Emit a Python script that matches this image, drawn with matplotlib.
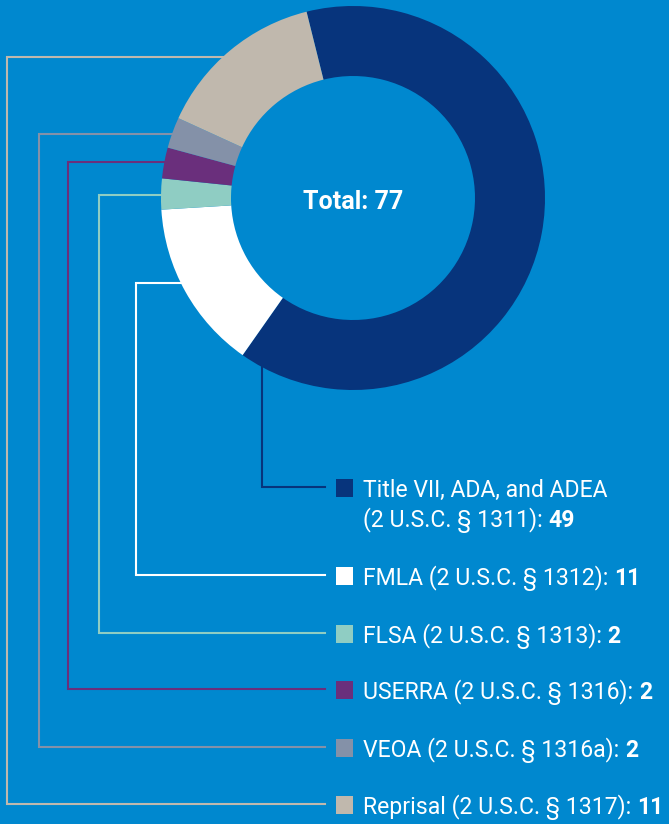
import numpy as np
import matplotlib.pyplot as plt

# data
labels = [['Title VII, ADA, and ADEA', '(2 U.S.C. § 1311): '],
          ['FMLA (2 U.S.C. § 1312): '],
          ['FLSA (2 U.S.C. § 1313): '],
          ['USERRA (2 U.S.C. § 1316): '],
          ['VEOA (2 U.S.C. § 1316a): '],
          ['Reprisal (2 U.S.C. § 1317): ']]
counts = [49, 11, 2, 2, 2, 11]
colors = ['#07347C', '#FFFFFF', '#8FCDC3', '#6A2F7C', '#8491A8', '#C0B8AD']
total = sum(counts)

bg = '#0088CF'
FONT = ['Roboto', 'DejaVu Sans']
FS = 16.6

fig = plt.figure(figsize=(6.69, 8.24), dpi=100, facecolor=bg)
ax = fig.add_axes([0, 0, 1, 1])
ax.set_facecolor(bg)

# donut (y axis is flipped, so counterclock in data = clockwise on screen)
cx, cy, R = 353, 198, 192
wedges, _ = ax.pie(counts, colors=colors, startangle=-104, counterclock=True,
                   center=(cx, cy), radius=R,
                   wedgeprops=dict(width=70, linewidth=0, edgecolor='none'))
for w in wedges:
    w.set_zorder(3)
ax.set_xlim(0, 669)
ax.set_ylim(824, 0)
ax.set_aspect('equal')
ax.axis('off')

ax.text(cx, 209, f'Total: {total}', color='white', fontsize=18, fontweight='bold',
        family=FONT, ha='center', va='baseline', zorder=5)

# leader lines: vertical x, top y, baseline of the legend row
line_x = [262, 136, 99, 68, 39, 7]
line_top = [None, 283, 195, 162, 134, 57]
baselines = [[497, 527], [585], [643], [699], [757], [814]]
x_end = 325
sq = 18

fig.canvas.draw()
renderer = fig.canvas.get_renderer()

for i in range(len(counts)):
    c = colors[i]
    b0 = baselines[i][0]
    y_low = b0 - sq / 2 - 1
    if line_top[i] is None:
        # straight down from the ring
        y_start = cy + np.sqrt(R ** 2 - (line_x[i] - cx) ** 2) - 3
        xs = [line_x[i], line_x[i], x_end]
        ys = [y_start, y_low, y_low]
    else:
        x_start = cx - np.sqrt(R ** 2 - (line_top[i] - cy) ** 2) + 3
        xs = [x_start, line_x[i], line_x[i], x_end]
        ys = [line_top[i], line_top[i], y_low, y_low]
    ax.plot(xs, ys, color=c, lw=1.5, zorder=1, solid_joinstyle='miter')
    ax.add_patch(plt.Rectangle((336, b0 - sq), 17, sq, color=c, lw=0, zorder=2))

    lines = labels[i]
    for j, s in enumerate(lines):
        t = ax.text(363, baselines[i][j], s, color='white', fontsize=FS, family=FONT,
                    ha='left', va='baseline')
    # bold value right after the last line
    bb = t.get_window_extent(renderer)
    x1 = ax.transData.inverted().transform((bb.x1, bb.y0))[0]
    ax.text(x1, baselines[i][-1], str(counts[i]), color='white', fontsize=FS,
            fontweight='bold', family=FONT, ha='left', va='baseline')

fig.savefig('out.png', dpi=100, facecolor=bg)
